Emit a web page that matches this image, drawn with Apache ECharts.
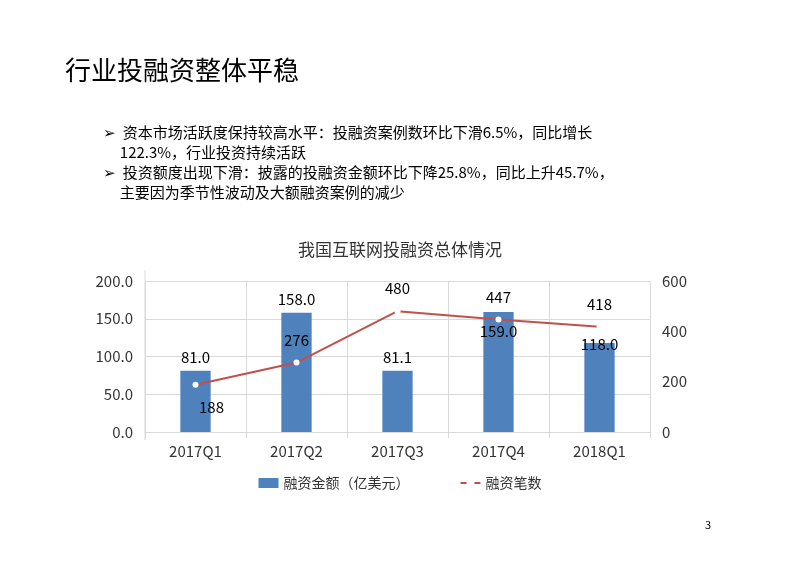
<!DOCTYPE html>
<html><head><meta charset="utf-8">
<script src="https://cdn.jsdelivr.net/npm/echarts@6/dist/echarts.min.js"></script>
<style>body{margin:0;background:#fff}#c{width:800px;height:565px}</style>
</head><body><div id="c"></div>
<script>
const categories=['2017Q1','2017Q2','2017Q3','2017Q4','2018Q1'];
const amounts=[81.0,158.0,81.1,159.0,118.0];
const counts=[188,276,480,447,418];
const F='"Noto Sans CJK SC",sans-serif';
const chart=echarts.init(document.getElementById('c'));
chart.setOption({
 animation:false,
 graphic:[
  {type:'text',left:65,top:57,style:{text:'行业投融资整体平稳',font:'26px '+F,fill:'#000'}},
  {type:'text',left:103,top:122,style:{text:'➢  资本市场活跃度保持较高水平：投融资案例数环比下滑6.5%，同比增长\n     122.3%，行业投资持续活跃\n➢  投资额度出现下滑：披露的投融资金额环比下降25.8%，同比上升45.7%，\n     主要因为季节性波动及大额融资案例的减少',font:'15px '+F,fill:'#000',lineHeight:20}},
  {type:'text',left:705,top:519,style:{text:'3',font:'11px '+F,fill:'#000'}},
  {type:'line',shape:{x1:145,y1:270,x2:145,y2:440},style:{stroke:'#d9d9d9'}}
 ],
 title:{text:'我国互联网投融资总体情况',left:'center',top:236,textStyle:{fontFamily:F,fontSize:17,fontWeight:'normal',color:'#333'}},
 legend:{bottom:70,left:'center',itemGap:50,textStyle:{fontFamily:F,fontSize:14,color:'#333'},
  data:[{name:'融资金额（亿美元）',icon:'rect'},{name:'融资笔数'}],itemWidth:20,itemHeight:10},
 grid:{left:145,right:150,top:281,bottom:133},
 xAxis:{type:'category',data:categories,axisTick:{show:true,length:6,lineStyle:{color:'#d9d9d9'}},
  axisLine:{lineStyle:{color:'#d9d9d9'}},splitLine:{show:true,lineStyle:{color:'#d9d9d9'}},
  axisLabel:{fontFamily:F,fontSize:15,color:'#333',margin:12}},
 yAxis:[
  {type:'value',min:0,max:200,interval:50,axisLabel:{formatter:v=>v.toFixed(1),fontFamily:F,fontSize:15,color:'#333',margin:12},
   splitLine:{lineStyle:{color:'#d9d9d9'}},axisLine:{show:false}},
  {type:'value',min:0,max:600,interval:200,axisLabel:{fontFamily:F,fontSize:15,color:'#333',margin:12},
   splitLine:{show:false},axisLine:{show:false}}
 ],
 series:[
  {name:'融资金额（亿美元）',type:'bar',barWidth:'30%',itemStyle:{color:'#4f81bd'},
   label:{show:true,position:'top',formatter:p=>p.value.toFixed(1),fontFamily:F,fontSize:15,color:'#000',distance:6},
   data:amounts.map((v,i)=>i===3?{value:v,label:{position:'insideTop',distance:12}}:i===4?{value:v,label:{position:'insideTop',distance:-6}}:v)},
  {name:'融资笔数',type:'line',yAxisIndex:1,symbol:'circle',symbolSize:6,
   lineStyle:{color:'#c0504d',width:2},itemStyle:{color:'#fff'},
   label:{show:true,position:'top',fontFamily:F,fontSize:15,color:'#000',distance:12},
   data:counts.map((v,i)=>i===0?{value:v,label:{position:'bottom',offset:[16,0]}}:v)}
 ]
});
</script></body></html>
